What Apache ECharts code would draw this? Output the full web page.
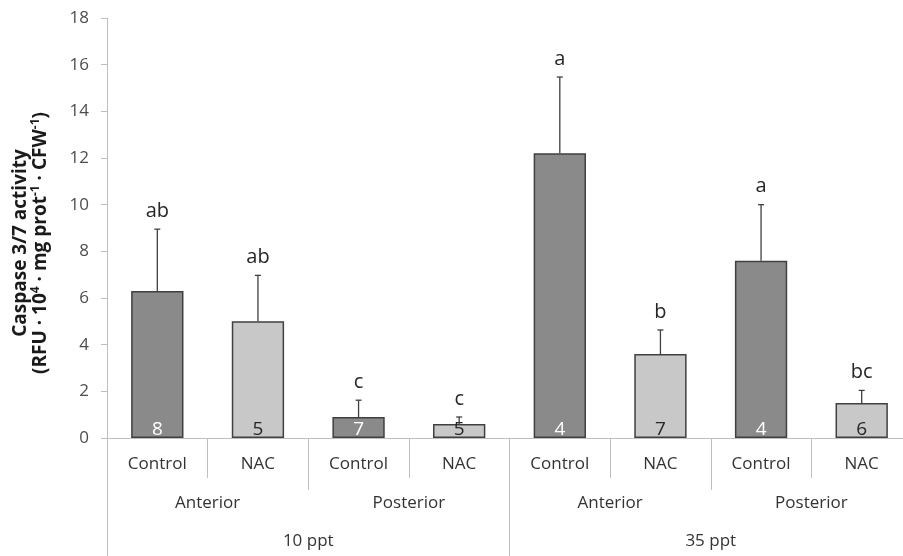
<!DOCTYPE html>
<html>
<head>
<meta charset="utf-8">
<script src="https://cdn.jsdelivr.net/npm/echarts@6/dist/echarts.min.js"></script>
<style>
  html, body { margin: 0; padding: 0; background: #fff; }
  #chart { width: 903px; height: 556px; }
</style>
</head>
<body>
<div id="chart"></div>
<script>
// Treatment level (innermost axis row)
const treatments = ['Control', 'NAC', 'Control', 'NAC', 'Control', 'NAC', 'Control', 'NAC'];
// Body region (middle axis row)
const regions = ['Anterior', 'Posterior', 'Anterior', 'Posterior'];
// Salinity (outer axis row)
const salinities = ['10 ppt', '35 ppt'];
// Caspase 3/7 activity means and standard errors
const means = [6.3, 5.0, 0.9, 0.6, 12.2, 3.6, 7.6, 1.5];
const errors = [2.65, 1.97, 0.72, 0.3, 3.27, 1.03, 2.4, 0.54];
// Significance letters and sample sizes
const letters = ['ab', 'ab', 'c', 'c', 'a', 'b', 'a', 'bc'];
const sampleSizes = [8, 5, 7, 5, 4, 7, 4, 6];
// Y axis range
const yTicks = { min: 0, max: 18, interval: 2 };

const FONT = 'Open Sans';
const AXIS_GREY = '#bfbfbf';
const DARK_FILL = '#8a8a8a';
const LIGHT_FILL = '#c8c8c8';
const EDGE = '#404040';

const chart = echarts.init(document.getElementById('chart'), null, { renderer: 'canvas' });

const barData = means.map((v, i) => {
  const isControl = treatments[i] === 'Control';
  return {
    value: v,
    itemStyle: { color: isControl ? DARK_FILL : LIGHT_FILL },
    label: { color: isControl ? '#ffffff' : '#262626' }
  };
});

const errData = means.map((v, i) => [i, v, v + errors[i], letters[i]]);

function baseXAxis(data, tickLen, labelMargin, showLine) {
  return {
    type: 'category',
    gridIndex: 0,
    position: 'bottom',
    data: data,
    axisLine: { show: showLine, lineStyle: { color: AXIS_GREY, width: 1 } },
    axisTick: { show: true, length: tickLen, interval: 0, lineStyle: { color: AXIS_GREY, width: 1 } },
    axisLabel: { interval: 0, margin: labelMargin, fontFamily: FONT, fontSize: 17, color: '#333333' },
    splitLine: { show: false }
  };
}

// Two-line axis title with superscript exponents
const titleRich = {
  t: { fontFamily: FONT, fontWeight: 'bold', fontSize: 19, fill: '#1a1a1a', lineHeight: 20, verticalAlign: 'bottom' },
  s: { fontFamily: FONT, fontWeight: 'bold', fontSize: 12, fill: '#1a1a1a', lineHeight: 20, verticalAlign: 'top' }
};
const titleText =
  '{t|Caspase 3/7 activity}\n' +
  '{t|(RFU · 10}{s|4}{t| · mg prot}{s|-1}{t| · CFW}{s|-1}{t|)}';

const option = {
  backgroundColor: '#ffffff',
  animation: false,
  grid: { left: 107, right: -9, top: 18, bottom: 118, outerBoundsMode: 'none' },
  xAxis: [
    baseXAxis(treatments, 40, 18, true),
    baseXAxis(regions, 52, 57, false),
    baseXAxis(salinities, 120, 95, false)
  ],
  yAxis: {
    type: 'value',
    min: yTicks.min,
    max: yTicks.max,
    interval: yTicks.interval,
    axisLine: { show: true, lineStyle: { color: AXIS_GREY, width: 1 } },
    axisTick: { show: true, length: 6, lineStyle: { color: AXIS_GREY } },
    axisLabel: { margin: 18, fontFamily: FONT, fontSize: 17, color: '#4d4d4d' },
    splitLine: { show: false }
  },
  graphic: [{
    type: 'text',
    x: 30,
    y: 243,
    rotation: Math.PI / 2,
    style: {
      text: titleText,
      rich: titleRich,
      fontFamily: FONT,
      fontWeight: 'bold',
      fontSize: 19,
      fill: '#1a1a1a',
      align: 'center',
      verticalAlign: 'middle'
    }
  }],
  series: [
    {
      type: 'bar',
      xAxisIndex: 0,
      yAxisIndex: 0,
      barWidth: '52%',
      data: barData,
      itemStyle: { borderColor: EDGE, borderWidth: 1.5 },
      label: {
        show: true,
        position: 'insideBottom',
        distance: -1,
        fontFamily: FONT,
        fontSize: 19,
        formatter: p => String(sampleSizes[p.dataIndex])
      },
      z: 2
    },
    {
      type: 'custom',
      xAxisIndex: 0,
      yAxisIndex: 0,
      data: errData,
      z: 3,
      renderItem: function (params, api) {
        const x = api.coord([api.value(0), 0])[0];
        const yLow = api.coord([api.value(0), api.value(1)])[1];
        const yHigh = api.coord([api.value(0), api.value(2)])[1];
        const letter = errData[params.dataIndex][3];
        const lineStyle = { stroke: EDGE, lineWidth: 1.3 };
        return {
          type: 'group',
          children: [
            { type: 'line', shape: { x1: x, y1: yLow, x2: x, y2: yHigh }, style: lineStyle },
            { type: 'line', shape: { x1: x - 3, y1: yHigh, x2: x + 3, y2: yHigh }, style: lineStyle },
            {
              type: 'text',
              x: x,
              y: yHigh - 8,
              style: {
                text: letter,
                fontFamily: FONT,
                fontSize: 20,
                fill: '#262626',
                align: 'center',
                verticalAlign: 'bottom'
              }
            }
          ]
        };
      }
    }
  ]
};

chart.setOption(option);
</script>
</body>
</html>
